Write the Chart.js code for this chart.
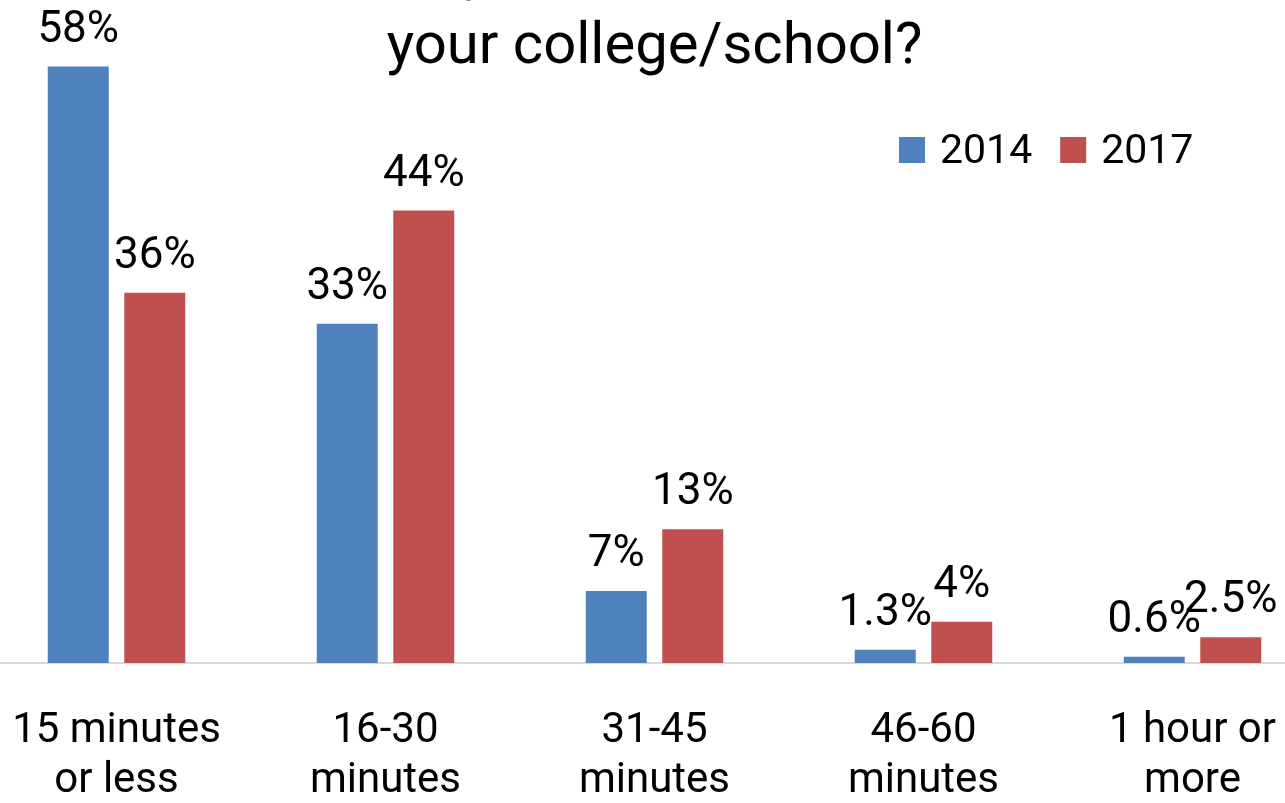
<!DOCTYPE html>
<html>
<head>
<meta charset="utf-8">
<script src="https://cdn.jsdelivr.net/npm/chart.js@4.4.1/dist/chart.umd.min.js"></script>
<style>
  html,body{margin:0;padding:0;background:#fff;overflow:hidden;}
  .wrap{position:relative;width:1285px;height:803px;overflow:hidden;}
  .wrap canvas{position:absolute;left:-18px;top:0;}
</style>
</head>
<body>
<div class="wrap"><canvas id="c" width="1345" height="803"></canvas></div>
<script>
const categories = [['15 minutes','or less'],['16-30','minutes'],['31-45','minutes'],['46-60','minutes'],['1 hour or','more']];
const years = ['2014','2017'];
const values2014 = [58, 33, 7, 1.3, 0.6];
const values2017 = [36, 44, 13, 4, 2.5];
const titleLines = ['Approximately how much time to travel to','your college/school?'];

const FONT = "Roboto, 'Open Sans', sans-serif";
const BLUE = '#4F81BD', RED = '#C0504D';

// title sits above the plot, first line runs off the top edge
const titlePlugin = {
  id:'topTitle',
  afterDraw(chart){
    const ctx = chart.ctx;
    ctx.save();
    ctx.fillStyle = '#000';
    ctx.font = `58px ${FONT}`;
    ctx.textAlign = 'center';
    ctx.textBaseline = 'alphabetic';
    const cx = chart.width/2;
    ctx.fillText(titleLines[0], cx, -12);
    ctx.fillText(titleLines[1], cx, 63);
    ctx.restore();
  }
};

// value labels above each bar
const valueLabels = {
  id:'valueLabels',
  afterDatasetsDraw(chart){
    const ctx = chart.ctx;
    ctx.save();
    ctx.fillStyle = '#000';
    ctx.font = `44px ${FONT}`;
    ctx.textAlign = 'center';
    ctx.textBaseline = 'alphabetic';
    chart.data.datasets.forEach((ds,i)=>{
      chart.getDatasetMeta(i).data.forEach((bar,j)=>{
        ctx.fillText(`${ds.data[j]}%`, bar.x, bar.y-25);
      });
    });
    ctx.restore();
  }
};

// legend boxes in the upper right of the plot
const cornerLegend = {
  id:'cornerLegend',
  afterDraw(chart){
    const ctx = chart.ctx;
    ctx.save();
    ctx.font = `41px ${FONT}`;
    ctx.textBaseline = 'alphabetic';
    ctx.textAlign = 'left';
    let x = 917;
    const top = 137, box = 26;
    chart.data.datasets.forEach(ds=>{
      ctx.fillStyle = ds.backgroundColor;
      ctx.fillRect(x, top, box, box);
      ctx.fillStyle = '#000';
      ctx.fillText(ds.label, x+box+15, top+box);
      x += box + 15 + ctx.measureText(ds.label).width + 28;
    });
    ctx.restore();
  }
};

new Chart(document.getElementById('c'), {
  type:'bar',
  data:{
    labels:categories,
    datasets:[
      {label:years[0], data:values2014, backgroundColor:BLUE},
      {label:years[1], data:values2017, backgroundColor:RED}
    ]
  },
  options:{
    responsive:false,
    animation:false,
    events:[],
    layout:{padding:{top:46,left:0,right:0,bottom:0}},
    datasets:{bar:{categoryPercentage:0.569, barPercentage:0.797}},
    plugins:{
      legend:{display:false},
      title:{display:false},
      tooltip:{enabled:false}
    },
    scales:{
      x:{
        grid:{display:false, drawTicks:false},
        border:{display:true, color:'#D9D9D9', width:2},
        ticks:{
          color:'#000',
          font:{family:FONT, size:42, lineHeight:1.2},
          padding:43,
          maxRotation:0,
          autoSkip:false
        },
        afterFit(scale){
          scale.height = 140;
          scale.paddingLeft = 0;
          scale.paddingRight = 0;
        }
      },
      y:{
        display:false,
        min:0,
        max:60
      }
    }
  },
  plugins:[valueLabels, cornerLegend, titlePlugin]
});
</script>
</body>
</html>
